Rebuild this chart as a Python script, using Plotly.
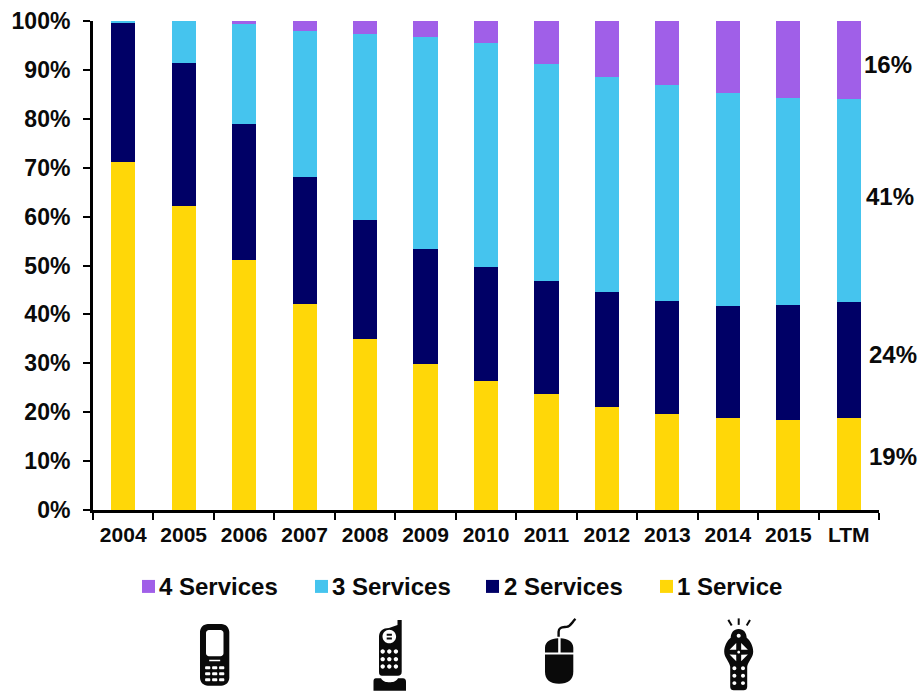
import math
import plotly.graph_objects as go

periods = ["2004", "2005", "2006", "2007", "2008", "2009", "2010", "2011", "2012", "2013", "2014", "2015", "LTM"]
one_service = [71.2, 62.2, 51.2, 42.2, 35.0, 29.8, 26.4, 23.8, 21.0, 19.6, 18.8, 18.4, 18.8]
two_services = [28.5, 29.2, 27.8, 25.8, 24.4, 23.6, 23.2, 23.1, 23.5, 23.1, 22.9, 23.6, 23.8]
three_services = [0.3, 8.6, 20.4, 30.0, 38.0, 43.3, 45.8, 44.3, 44.1, 44.2, 43.6, 42.3, 41.4]
four_services = [0.0, 0.0, 0.6, 2.0, 2.6, 3.3, 4.6, 8.8, 11.4, 13.1, 14.7, 15.7, 16.0]
ltm_labels = ["19%", "24%", "41%", "16%"]
legend_names = ["4 Services", "3 Services", "2 Services", "1 Service"]

YELLOW, NAVY, SKY, PURPLE = "#FFD708", "#000066", "#45C4EE", "#A05FE8"
FONT = "Liberation Sans, Arial, sans-serif"
W, H = 918, 691
L, R, T, B = 93, 879, 20.5, 510


def px(x):
    return (x - L) / (R - L)


def py(y):
    return (B - y) / (B - T)


def pt(x, y):
    return f"{px(x):.5f},{py(y):.5f}"


def rrect(x0, y0, x1, y1, r=0):
    k = r * 0.45
    if r == 0:
        return f"M{pt(x0, y0)}L{pt(x1, y0)}L{pt(x1, y1)}L{pt(x0, y1)}Z"
    return (
        f"M{pt(x0 + r, y0)}L{pt(x1 - r, y0)}"
        f"C{pt(x1 - k, y0)} {pt(x1, y0 + k)} {pt(x1, y0 + r)}"
        f"L{pt(x1, y1 - r)}"
        f"C{pt(x1, y1 - k)} {pt(x1 - k, y1)} {pt(x1 - r, y1)}"
        f"L{pt(x0 + r, y1)}"
        f"C{pt(x0 + k, y1)} {pt(x0, y1 - k)} {pt(x0, y1 - r)}"
        f"L{pt(x0, y0 + r)}"
        f"C{pt(x0, y0 + k)} {pt(x0 + k, y0)} {pt(x0 + r, y0)}Z"
    )


def circle(cx, cy, r):
    return rrect(cx - r, cy - r, cx + r, cy + r, r)


def poly(points):
    return "M" + "L".join(pt(x, y) for x, y in points) + "Z"


def icon(path):
    return dict(type="path", xref="paper", yref="paper", path=path,
                fillcolor="#0a0a0a", line=dict(width=0), layer="above")


def stroke(path, width=2.4):
    return dict(type="path", xref="paper", yref="paper", path=path,
                line=dict(color="#0a0a0a", width=width), layer="above")


shapes = []

# Mobile phone
cx = 214.7
parts = [rrect(200, 624, 229.3, 686, 8), rrect(206, 630, 223.5, 656.5, 3)]
parts.append(rrect(cx - 5.5, 659.8, cx + 5.5, 661.4))
for row in (668, 674, 680):
    for col in (-7, 0, 7):
        parts.append(rrect(cx + col - 2.6, row - 1.5, cx + col + 2.6, row + 1.5, 0.8))
shapes.append(icon("".join(parts)))

# Cordless handset and its cradle
cx = 389.3
parts = [
    "M" + pt(379, 637) + "C" + pt(379, 631) + " " + pt(383, 628) + " " + pt(389, 628)
    + "L" + pt(397.5, 625) + "L" + pt(397.5, 620) + "L" + pt(401.7, 620) + "L" + pt(401.7, 672)
    + "C" + pt(401.7, 675) + " " + pt(400, 676) + " " + pt(398, 676)
    + "L" + pt(382, 676) + "C" + pt(380, 676) + " " + pt(379, 675) + " " + pt(379, 672) + "Z",
    circle(cx, 636.7, 6.8),
    rrect(cx - 2.6, 633.8, cx + 2.6, 635.8),
    rrect(cx - 2.6, 637.6, cx + 2.6, 639.6),
]
for row in (651.7, 659.3, 666.7):
    for col in (-6.6, 0, 6.6):
        parts.append(circle(cx + col, row, 2.2))
shapes.append(icon("".join(parts)))
shapes.append(icon(
    "M" + pt(376, 678.5) + "L" + pt(381, 678.5) + "C" + pt(383, 682) + " " + pt(386, 682.5) + " " + pt(389.5, 682.5)
    + "C" + pt(393, 682.5) + " " + pt(396, 682) + " " + pt(398, 678.5) + "L" + pt(403, 678.5)
    + "C" + pt(405, 678.5) + " " + pt(406, 680) + " " + pt(406, 682) + "L" + pt(406, 691)
    + "L" + pt(373.5, 691) + "L" + pt(373.5, 682) + "C" + pt(373.5, 680) + " " + pt(374, 678.5) + " " + pt(376, 678.5) + "Z"
))

# Computer mouse
shapes.append(icon(
    "M" + pt(558.2, 638.5) + "L" + pt(558.2, 652.6) + "L" + pt(545, 652.6) + "L" + pt(545, 648)
    + "C" + pt(545, 642) + " " + pt(551, 638.5) + " " + pt(558.2, 638.5) + "Z"
    + "M" + pt(560.6, 638.5) + "C" + pt(567.5, 638.5) + " " + pt(573.3, 642) + " " + pt(573.3, 648)
    + "L" + pt(573.3, 652.6) + "L" + pt(560.6, 652.6) + "Z"
))
shapes.append(icon(
    "M" + pt(545, 654.6) + "L" + pt(573.3, 654.6) + "L" + pt(573.3, 672)
    + "C" + pt(573.3, 680) + " " + pt(568, 684) + " " + pt(559, 684)
    + "C" + pt(550, 684) + " " + pt(545, 680) + " " + pt(545, 672) + "Z"
))
shapes.append(stroke(
    "M" + pt(558.6, 637) + "L" + pt(558.6, 632)
    + "C" + pt(558.6, 627) + " " + pt(563, 627.5) + " " + pt(566.5, 627)
    + "C" + pt(571, 626.5) + " " + pt(572, 622) + " " + pt(575.5, 619)
))

# TV remote with its signal rays
cx = 738.7
parts = [
    "M" + pt(cx, 629)
    + "C" + pt(cx + 5, 629) + " " + pt(cx + 8, 633) + " " + pt(cx + 8, 638)
    + "C" + pt(cx + 12, 641) + " " + pt(cx + 14.5, 647) + " " + pt(cx + 14.5, 652)
    + "C" + pt(cx + 14.5, 658) + " " + pt(cx + 9, 662) + " " + pt(cx + 8.5, 667)
    + "L" + pt(cx + 8.5, 687)
    + "C" + pt(cx + 8.5, 689.5) + " " + pt(cx + 7, 690.5) + " " + pt(cx + 5, 690.5)
    + "L" + pt(cx - 5, 690.5)
    + "C" + pt(cx - 7, 690.5) + " " + pt(cx - 8.5, 689.5) + " " + pt(cx - 8.5, 687)
    + "L" + pt(cx - 8.5, 667)
    + "C" + pt(cx - 9, 662) + " " + pt(cx - 14.5, 658) + " " + pt(cx - 14.5, 652)
    + "C" + pt(cx - 14.5, 647) + " " + pt(cx - 12, 641) + " " + pt(cx - 8, 638)
    + "C" + pt(cx - 8, 633) + " " + pt(cx - 5, 629) + " " + pt(cx, 629) + "Z",
    circle(cx, 636, 2),
]
# Light ring of the four-way pad, with a dark centre and four dark arrows
for ang in (45, 135, 225, 315):
    a = math.radians(ang)
    a0, a1 = a - math.radians(30), a + math.radians(30)
    parts.append(poly([
        (cx + 3.5 * math.cos(a), 652.3 + 3.5 * math.sin(a)),
        (cx + 9.5 * math.cos(a0), 652.3 + 9.5 * math.sin(a0)),
        (cx + 9.5 * math.cos(a1), 652.3 + 9.5 * math.sin(a1)),
    ]))
parts.append(circle(cx, 652.3, 1.4))
for row in (668.3, 676, 683.3):
    for col in (-4.3, 4.3):
        parts.append(circle(cx + col, row, 2))
shapes.append(icon("".join(parts)))
for x0, y0, x1, y1 in ((cx, 618.5, cx, 625), (728.3, 620, 731.7, 625.7), (750, 620, 746.7, 625.7)):
    shapes.append(stroke("M" + pt(x0, y0) + "L" + pt(x1, y1), 2))

# Legend swatches sit beside their own labels
swatch_x = [142, 315, 486, 660]
swatch_colors = [PURPLE, SKY, NAVY, YELLOW]
for sx, color in zip(swatch_x, swatch_colors):
    shapes.append(dict(type="rect", xref="paper", yref="paper",
                       x0=px(sx), x1=px(sx + 13), y0=py(593), y1=py(580),
                       fillcolor=color, line=dict(width=0)))

annotations = []
text_x = [157, 330, 502, 675]
for tx, name in zip(text_x, legend_names):
    annotations.append(dict(text=f"<b>{name}</b>", xref="paper", yref="paper", x=px(tx), y=py(587),
                            xanchor="left", yanchor="middle", showarrow=False,
                            font=dict(family=FONT, size=24, color="#0a0a0a")))

# Value labels to the right of the final column
ltm_series = [one_service[-1], two_services[-1], three_services[-1], four_services[-1]]
base = 0
label_px = [893, 893, 890, 888]
label_shift = [8, 5, 4, -4]
for value, text, lx, shift in zip(ltm_series, ltm_labels, label_px, label_shift):
    annotations.append(dict(text=f"<b>{text}</b>", xref="paper", yref="y", x=px(lx), y=base + value / 2,
                            yshift=shift, xanchor="center", yanchor="middle", showarrow=False,
                            font=dict(family=FONT, size=24, color="#0a0a0a")))
    base += value

fig = go.Figure()
for name, values, color in (
    ("1 Service", one_service, YELLOW),
    ("2 Services", two_services, NAVY),
    ("3 Services", three_services, SKY),
    ("4 Services", four_services, PURPLE),
):
    fig.add_bar(x=periods, y=values, name=name, marker=dict(color=color, line=dict(width=0)),
                showlegend=False)

fig.update_layout(
    barmode="stack", bargap=0.6, width=W, height=H, autosize=False,
    margin=dict(l=L, r=W - R, t=T, b=H - B, pad=0, autoexpand=False),
    paper_bgcolor="white", plot_bgcolor="white",
    shapes=shapes, annotations=annotations,
    xaxis=dict(type="category", range=[-0.5, 12.5], showgrid=False, showline=True, linecolor="black",
               linewidth=2.5, ticks="outside", tickson="boundaries", ticklen=7, tickwidth=2,
               tickcolor="black", tickangle=0, ticklabelstandoff=4,
               tickfont=dict(family=FONT, size=21, color="#0a0a0a", weight="bold")),
    yaxis=dict(range=[0, 100], tick0=0, dtick=10, ticksuffix="%", showgrid=False, zeroline=False,
               showline=True, linecolor="black", linewidth=3, ticks="outside", ticklen=7, tickwidth=2,
               tickcolor="black", ticklabelstandoff=8,
               tickfont=dict(family=FONT, size=23, color="#0a0a0a", weight="bold")),
)

fig.write_html("out.html")
